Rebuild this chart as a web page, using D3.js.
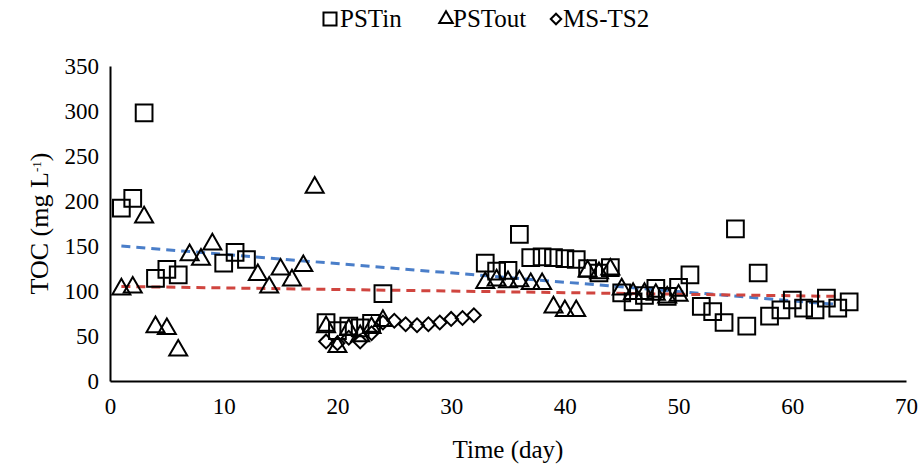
<!DOCTYPE html>
<html>
<head>
<meta charset="utf-8">
<script src="https://cdn.jsdelivr.net/npm/d3@7/dist/d3.min.js"></script>
<style>
  html, body { margin: 0; padding: 0; background: #fff; }
  svg { display: block; }
  svg text { font-family: "Liberation Serif", "Times New Roman", serif; fill: #000; }
</style>
</head>
<body>
<svg id="chart" width="919" height="465"></svg>
<script>
// TOC over time: influent (PSTin), effluent (PSTout) and MS-TS2
const pstInDays   = [1, 2, 3, 4, 5, 6, 10, 11, 12, 19, 20, 21, 22, 23, 24,
                     33, 34, 35, 36, 37, 38, 39, 40, 41, 42, 43, 44, 45, 46, 47, 48, 49, 50,
                     51, 52, 53, 54, 55, 56, 57, 58, 59, 60, 61, 62, 63, 64, 65];
const pstInToc    = [192, 203, 298, 114, 124, 118, 131, 143, 135, 65, 56, 61, 59, 64, 97,
                     131, 122, 123, 163, 137, 138, 137, 136, 135, 125, 120, 126, 98, 88, 95, 103, 94, 104,
                     118, 83, 77, 65, 169, 61, 120, 72, 79, 90, 81, 79, 92, 81, 88];

const pstOutDays  = [1, 2, 3, 4, 5, 6, 7, 8, 9, 13, 14, 15, 16, 17, 18, 19, 20, 21, 22, 23, 24,
                     33, 34, 35, 36, 37, 38, 39, 40, 41, 42, 43, 44, 45, 46, 47, 48, 49, 50];
const pstOutToc   = [102, 104, 182, 60, 58, 34, 140, 135, 152, 118, 104, 124, 112, 128, 215, 60, 38, 57, 50, 59, 67,
                     109, 112, 110, 111, 108, 108, 82, 78, 78, 122, 120, 124, 102, 97, 97, 96, 93, 95];

const msDays      = [19, 20, 21, 22, 23, 24, 25, 26, 27, 28, 29, 30, 31, 32];
const msToc       = [44, 42, 48, 44, 53, 65, 67, 63, 62, 63, 65, 69, 70, 73];

// Linear trend lines (start/end day and value)
const trendInDays  = [1, 64];
const trendInToc   = [150, 85];
const trendOutDays = [1, 64];
const trendOutToc  = [105, 94];

const xTicks = [0, 10, 20, 30, 40, 50, 60, 70];
const yTicks = [0, 50, 100, 150, 200, 250, 300, 350];

const serif = '"Liberation Serif", "Times New Roman", serif';
const svg = d3.select("#chart");
const x = d3.scaleLinear().domain([0, 70]).range([110, 906]);
const y = d3.scaleLinear().domain([0, 350]).range([381, 66]);

const tickFont = 23;
const titleFont = 25;

// Axes: plain lines, no tick marks
const xAxis = svg.append("g")
  .attr("transform", `translate(0,${y(0)})`)
  .call(d3.axisBottom(x).tickValues(xTicks).tickSize(0).tickPadding(17).tickFormat(d3.format("d")));
const yAxis = svg.append("g")
  .attr("transform", `translate(${x(0)},0)`)
  .call(d3.axisLeft(y).tickValues(yTicks).tickSize(0).tickPadding(11).tickFormat(d3.format("d")));
[xAxis, yAxis].forEach(g => {
  g.attr("font-family", null).attr("font-size", null);
  g.select(".domain").attr("stroke", "#000").attr("stroke-width", 2);
  g.selectAll("text").style("font-family", serif).style("font-size", tickFont + "px");
});

// Axis titles
svg.append("text")
  .attr("x", (x(0) + x(70)) / 2).attr("y", 458)
  .attr("text-anchor", "middle").style("font-size", titleFont + "px")
  .text("Time (day)");
const yTitle = svg.append("text")
  .attr("transform", `translate(48,${(y(0) + y(350)) / 2}) rotate(-90)`)
  .attr("text-anchor", "middle").style("font-size", "26px");
yTitle.append("tspan").text("TOC (mg L");
yTitle.append("tspan").attr("baseline-shift", "super").style("font-size", "13px").text("-1");
yTitle.append("tspan").text(")");

// Trend lines
const line = d3.line().x(d => x(d[0])).y(d => y(d[1]));
svg.append("path")
  .datum(trendInDays.map((d, i) => [d, trendInToc[i]]))
  .attr("d", line).attr("fill", "none")
  .attr("stroke", "#4a7ec9").attr("stroke-width", 3).attr("stroke-dasharray", "9,6");
svg.append("path")
  .datum(trendOutDays.map((d, i) => [d, trendOutToc[i]]))
  .attr("d", line).attr("fill", "none")
  .attr("stroke", "#d0453f").attr("stroke-width", 3).attr("stroke-dasharray", "9,6");

// Marker shapes
const sqSym  = d3.symbol().type(d3.symbolSquare).size(280);
const triSym = d3.symbol().type(d3.symbolTriangle).size(140);
const diaSym = d3.symbol().type(d3.symbolSquare).size(95);

function drawSeries(days, vals, sym, rotate) {
  svg.append("g").selectAll("path")
    .data(days.map((d, i) => [d, vals[i]]))
    .join("path")
    .attr("d", sym)
    .attr("transform", d => `translate(${x(d[0])},${y(d[1])})` + (rotate ? " rotate(45)" : ""))
    .attr("fill", "none").attr("stroke", "#000").attr("stroke-width", 2);
}
drawSeries(msDays, msToc, diaSym, true);
drawSeries(pstOutDays, pstOutToc, triSym, false);
drawSeries(pstInDays, pstInToc, sqSym, false);

// Legend
const legend = [
  { name: "PSTin",  sym: d3.symbol().type(d3.symbolSquare).size(170),  rot: false, mx: 330, tx: 340 },
  { name: "PSTout", sym: d3.symbol().type(d3.symbolTriangle).size(80), rot: false, mx: 446, tx: 453 },
  { name: "MS-TS2", sym: d3.symbol().type(d3.symbolSquare).size(55),   rot: true,  mx: 556, tx: 563 }
];
const lg = svg.append("g");
legend.forEach(l => {
  lg.append("path").attr("d", l.sym)
    .attr("transform", `translate(${l.mx},19)` + (l.rot ? " rotate(45)" : ""))
    .attr("fill", "none").attr("stroke", "#000").attr("stroke-width", 2);
  lg.append("text").attr("x", l.tx).attr("y", 27).style("font-size", titleFont + "px").text(l.name);
});
</script>
</body>
</html>
